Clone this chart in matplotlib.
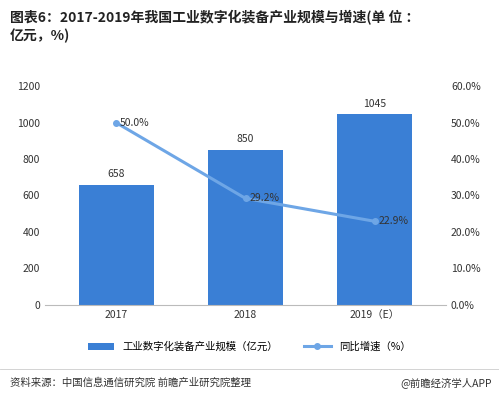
import matplotlib.pyplot as plt
from matplotlib.ticker import FuncFormatter
plt.rcParams['font.family'] = ['Noto Sans CJK SC', 'DejaVu Sans']

categories = ['2017', '2018', '2019（E）']
scale = [658, 850, 1045]
growth = [50.0, 29.2, 22.9]

fig = plt.figure(figsize=(4.99, 4.01), dpi=100)
ax = fig.add_axes([0.09, 0.24, 0.804, 0.545])
ax2 = ax.twinx()
x = range(len(categories))
bars = ax.bar(x, scale, width=0.58, color='#3a7fd5', label='工业数字化装备产业规模（亿元）', zorder=2)
for i, v in enumerate(scale):
    ax.text(i, v + 30, str(v), ha='center', va='bottom', fontsize=7.5, color='#333333')
ax.set_ylim(0, 1200)
ax.set_yticks(range(0, 1201, 200))
ax.set_xticks(list(x))
ax.set_xticklabels(categories)
ax.set_xlim(-0.55, 2.55)
line, = ax2.plot(x, growth, color='#6ea6e6', marker='o', markersize=4, linewidth=2.2, label='同比增速（%）', zorder=3)
for i, v in enumerate(growth):
    ax2.text(i + 0.03, v, f'{v:.1f}%', ha='left', va='center', fontsize=7.5, color='#333333')
ax2.set_ylim(0, 60)
ax2.set_yticks(range(0, 61, 10))
ax2.yaxis.set_major_formatter(FuncFormatter(lambda v, p: f'{v:.1f}%'))
for a in (ax, ax2):
    for s in a.spines.values():
        s.set_visible(False)
    a.tick_params(length=0, labelsize=7.5, colors='#333333')
ax.spines['bottom'].set_visible(True)
ax.spines['bottom'].set_color('#bbbbbb')
fig.legend(handles=[bars, line], loc='center', bbox_to_anchor=(0.5, 0.135), ncol=2, frameon=False, fontsize=7.5,
           handlelength=2.5, columnspacing=2.5)
fig.text(0.02, 0.975, '图表6：2017-2019年我国工业数字化装备产业规模与增速(单 位 ：\n亿元，%)',
         ha='left', va='top', fontsize=10, fontweight='bold', color='#222222', linespacing=1.3)
fig.add_artist(plt.Line2D([0.0, 1.0], [0.08, 0.08], color='#cccccc', linewidth=0.6))
fig.text(0.02, 0.045, '资料来源：中国信息通信研究院 前瞻产业研究院整理', ha='left', va='center', fontsize=7.5, color='#333333')
fig.text(0.985, 0.045, '@前瞻经济学人APP', ha='right', va='center', fontsize=7.5, color='#333333')
fig.savefig('out.png', dpi=100)
